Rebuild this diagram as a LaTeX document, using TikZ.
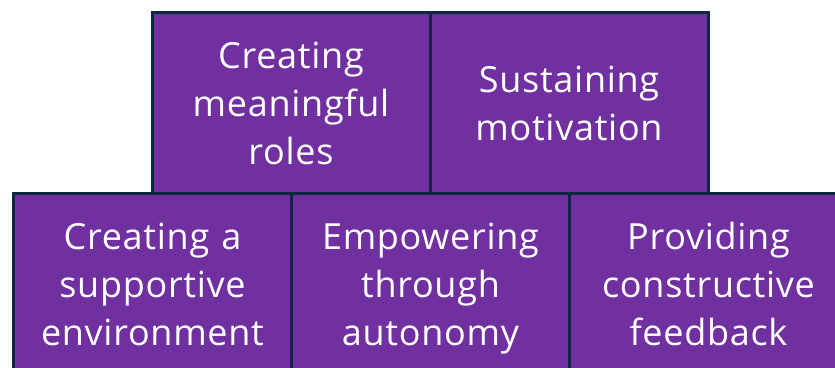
\documentclass[tikz,border=0pt]{standalone}
\usepackage{fontspec}
\setmainfont{Open Sans}[LetterSpace=2]
\definecolor{tilefill}{HTML}{7030A0}
\definecolor{tileline}{HTML}{0E2841}
% line strut with a fixed height and depth, so every tile sets its lines alike
\newcommand{\tl}[1]{\rule[-10.4pt]{0pt}{48pt}#1}
\begin{document}
\begin{tikzpicture}[x=1pt,y=-1pt,
  tile/.style={draw=tileline, fill=tilefill, line width=3pt,
    minimum width=278pt, minimum height=181pt, inner sep=0pt,
    text=white, align=center, text width=270pt,
    font=\fontsize{36}{48}\selectfont}]
\useasboundingbox (0,0) rectangle (835,367);
\begin{scope}
\clip (0,0) rectangle (835,367);
% upper row
\node[tile] (roles) at (291,102.5) {\tl{Creating}\\\tl{meaningful}\\\tl{roles}};
\node[tile] (motiv) at (569,102.5) {\tl{Sustaining}\\\tl{motivation}};
% lower row
\node[tile] (supp) at (152.5,284) {\tl{Creating a}\\\tl{supportive}\\\tl{environment}};
\node[tile] (auto) at (430.5,284) {\tl{Empowering}\\\tl{through}\\\tl{autonomy}};
\node[tile] (feed) at (708.5,284) {\tl{Providing}\\\tl{constructive}\\\tl{feedback}};
\end{scope}
\end{tikzpicture}
\end{document}
